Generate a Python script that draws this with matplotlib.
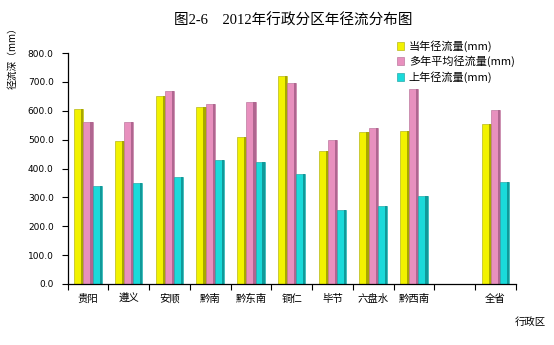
import matplotlib
matplotlib.use("Agg")
import matplotlib.pyplot as plt
import numpy as np

plt.rcParams['font.family'] = ['Noto Sans CJK SC', 'DejaVu Sans']

regions = ["贵阳", "遵义", "安顺", "黔南", "黔东南", "铜仁", "毕节", "六盘水", "黔西南", "", "全省"]
runoff_2012 = [607, 497, 650, 615, 511, 720, 460, 525, 529, np.nan, 553]
runoff_mean = [562, 560, 670, 622, 632, 697, 499, 542, 676, np.nan, 602]
runoff_2011 = [341, 349, 371, 428, 421, 382, 255, 270, 304, np.nan, 354]
series_names = ["当年径流量(mm)", "多年平均径流量(mm)", "上年径流量(mm)"]
y_ticks = [0, 100, 200, 300, 400, 500, 600, 700, 800]

colors = ["#F2F200", "#E890BE", "#1ADADA"]
shades = ["#A8A800", "#B06690", "#109A9A"]

fig = plt.figure(figsize=(5.54, 3.45), dpi=100)
ax = fig.add_axes([0.122, 0.177, 0.809, 0.669])

x = np.arange(len(regions))
w = 0.225
for i, (vals, c, sh, name) in enumerate(zip([runoff_2012, runoff_mean, runoff_2011], colors, shades, series_names)):
    xc = x + (i - 1) * w
    ax.bar(xc, vals, width=w, color=c, edgecolor=sh, linewidth=0.4, label=name)
    # darker shaded strip on the right side of each bar
    ax.bar(xc + w * 0.38, vals, width=w * 0.24, color=sh, linewidth=0)

ax.set_xlim(-0.5, len(regions) - 0.5)
ax.set_ylim(0, 800)
ax.set_yticks(y_ticks)
ax.set_yticklabels([f"{v:.1f}" for v in y_ticks], fontsize=6.5, family=['DejaVu Sans'])
ax.set_xticks(x)
ax.set_xticklabels(regions, fontsize=7.5)
ax.set_xticks(np.arange(len(regions) + 1) - 0.5, minor=True)
ax.tick_params(axis='x', which='major', length=0, pad=7)
ax.tick_params(axis='x', which='minor', length=4, direction='out', width=0.8)
ax.tick_params(axis='y', length=4, direction='out', width=0.8, pad=6)

for s in ['top', 'right']:
    ax.spines[s].set_visible(False)
ax.spines['left'].set_linewidth(0.9)
ax.spines['bottom'].set_linewidth(0.9)

fig.text(0.530, 0.94, "图2-6　2012年行政分区年径流分布图", ha='center', va='center',
         fontsize=10.5, family=['Liberation Serif', 'Noto Sans CJK SC'])
fig.text(0.022, 0.84, "径流深（mm）", rotation=90, ha='center', va='center', fontsize=7)
fig.text(0.957, 0.068, "行政区", ha='center', va='center', fontsize=7.5)

ax.legend(loc='upper right', bbox_to_anchor=(1.02, 1.1), frameon=False, fontsize=8,
          handlelength=0.7, handleheight=0.7, handletextpad=0.4, labelspacing=0.35)

fig.savefig("out.png", dpi=100)
